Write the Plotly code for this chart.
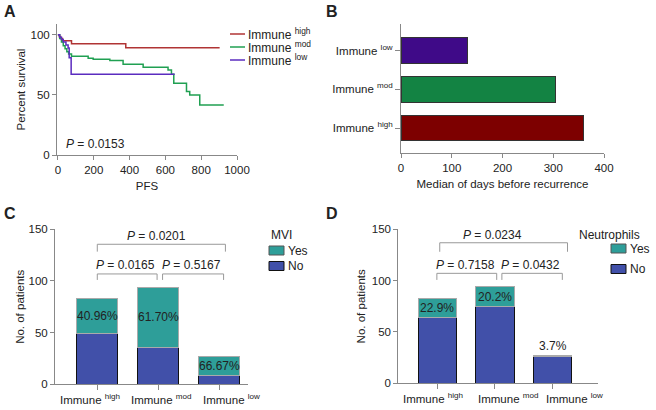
import plotly.graph_objects as go

# ---- data ----
groups = ["Immune <sup>high</sup>", "Immune <sup>mod</sup>", "Immune <sup>low</sup>"]

# A: Kaplan-Meier (PFS days, percent survival)
high_t = [0, 8, 15, 26, 76, 379, 903]
high_s = [100, 98.5, 97, 95, 92.5, 89.2, 89.2]
mod_t = [0, 10, 20, 30, 40, 50, 60, 76, 169, 197, 290, 364, 476, 615, 634, 647, 718, 736, 792, 926]
mod_s = [100, 97, 94, 91, 88.5, 86, 84, 82.2, 80.6, 79.7, 78.6, 75.6, 73.1, 70.8, 67.2, 59.7, 52.8, 50, 41.7, 41.7]
low_t = [0, 10, 20, 30, 45, 57, 63, 74, 652]
low_s = [100, 98, 96, 94, 91.5, 89, 81, 67.2, 67.2]
p_km = "0.0153"

# B: median days before recurrence (high, mod, low)
median_days = [360, 305, 132]

# C: MVI
mvi_no = [49, 36, 9]
mvi_yes = [34, 58, 18]
mvi_p = [(0, 2, "0.0201"), (0, 1, "0.0165"), (1, 2, "0.5167")]

# D: Neutrophils
neu_no = [64, 75, 26]
neu_yes = [19, 19, 1]
neu_p = [(0, 2, "0.0234"), (0, 1, "0.7158"), (1, 2, "0.0432")]

W, H = 656, 410
def px(x): return x / W
def py(y): return 1 - y / H

FAM = "Liberation Sans"
FS = 11.5
FONT = dict(family=FAM, size=FS, color="#222")
AX = dict(showline=True, linecolor="#888", linewidth=1, ticks="outside", ticklen=4,
          tickcolor="#888", showgrid=False, zeroline=False, automargin=False,
          tickfont=dict(family=FAM, size=FS, color="#222"), tickangle=0)
TF = dict(family=FAM, size=FS, color="#222")

km_cols = {"high": "#b03434", "mod": "#20a052", "low": "#5b2cbf"}
bar_cols = ["#7d0000", "#138343", "#3f0a88"]
teal, blue = "#2e9e99", "#4150a9"

fig = go.Figure()

# A
for t, s, key in [(high_t, high_s, "high"), (mod_t, mod_s, "mod"), (low_t, low_s, "low")]:
    fig.add_trace(go.Scatter(x=t, y=s, mode="lines", line=dict(color=km_cols[key], width=1.5, shape="hv"),
                             xaxis="x", yaxis="y", showlegend=False))

# B
fig.add_trace(go.Bar(x=median_days, y=groups, orientation="h", width=0.67,
                     marker=dict(color=bar_cols, line=dict(color="#333", width=1)),
                     xaxis="x2", yaxis="y2", showlegend=False))

# C / D stacked
for no, yes, xa, ya in [(mvi_no, mvi_yes, "x3", "y3"), (neu_no, neu_yes, "x4", "y4")]:
    fig.add_trace(go.Bar(x=groups, y=no, name="No", width=0.67, marker=dict(color=blue, line=dict(color="#111", width=1)),
                         xaxis=xa, yaxis=ya, showlegend=False))
    fig.add_trace(go.Bar(x=groups, y=yes, name="Yes", width=0.67, marker=dict(color=teal, line=dict(color="#aaa", width=1)),
                         xaxis=xa, yaxis=ya, showlegend=False))

annotations = []
shapes = []

def ann(text, x, y, xref="paper", yref="paper", size=FS, xanchor="center", yanchor="middle", **kw):
    annotations.append(dict(text=text, x=x, y=y, xref=xref, yref=yref, showarrow=False,
                            font=dict(family=FAM, size=size, color="#222"),
                            xanchor=xanchor, yanchor=yanchor, **kw))

# panel letters
for letter, x, y in [("A", 2, 11), ("B", 324, 11), ("C", 2, 213), ("D", 324, 213)]:
    ann("<b>%s</b>" % letter, px(x), py(y), size=16, xanchor="left")

# A legend
for (key, name), y in zip([("high", groups[0]), ("mod", groups[1]), ("low", groups[2])], [34, 47, 60]):
    shapes.append(dict(type="line", xref="paper", yref="paper", x0=px(230), x1=px(245), y0=py(y), y1=py(y),
                       line=dict(color=km_cols[key], width=1.5)))
    ann(name, px(246), py(y), size=12, xanchor="left")
ann("<i>P</i> = " + p_km, 35, 9, xref="x", yref="y", xanchor="left", size=12)

# percent labels, brackets, category labels (spread a little wider than the bars, as in the original)
def stacked_extras(no, yes, xa, ya, comps, levels, offsets, ptexts, label_pos, label_y):
    for i, (n, y) in enumerate(zip(no, yes)):
        pct = 100 * y / (n + y)
        txt = ("%.2f%%" % pct) if xa == "x3" else ("%.1f%%" % pct)
        if y >= 5:
            ann(txt, i, n + y / 2, xref=xa, yref=ya, size=12)
        else:
            ann(txt, i, n + y + 1, xref=xa, yref=ya, size=12, yanchor="bottom")
    for (a, b, p), (top, bot), (da, db), (tx, ty) in zip(comps, levels, offsets, ptexts):
        x0, x1 = a + da, b + db
        shapes.append(dict(type="path", xref=xa, yref=ya,
                           path="M %f,%f L %f,%f L %f,%f L %f,%f" % (x0, bot, x0, top, x1, top, x1, bot),
                           line=dict(color="#999", width=1)))
        ann("<i>P</i> = " + p, tx, ty, xref=xa, yref=ya, size=12)
    for g, lx in zip(groups, label_pos):
        ann(g, lx, py(label_y), xref=xa, yref="paper", size=FS)

stacked_extras(mvi_no, mvi_yes, "x3", "y3", mvi_p,
               [(135.5, 128.4), (106.8, 101), (106.8, 101)],
               [(0.0, 0.1), (0.0, -0.02), (0.07, 0.07)],
               [(0.97, 143.6), (0.47, 115.5), (1.55, 115.5)],
               [-0.12, 1.04, 2.2], 399)
stacked_extras(neu_no, neu_yes, "x4", "y4", neu_p,
               [(136.9, 128.1), (107.1, 100.7), (107.1, 100.7)],
               [(0.04, 0.26), (-0.01, 0.03), (0.12, 0.17)],
               [(0.95, 144.4), (0.48, 115.2), (1.61, 115.2)],
               [-0.08, 1.22, 2.38], 398)

# legends C and D
def bar_legend(title, title_x, title_anchor, sw_x, ys):
    ann(title, px(title_x), py(235), size=12, xanchor=title_anchor)
    for (name, col, lc), y in zip([("Yes", teal, "#555"), ("No", blue, "#111")], ys):
        shapes.append(dict(type="rect", xref="paper", yref="paper", x0=px(sw_x), x1=px(sw_x + 15),
                           y0=py(y + 4.5), y1=py(y - 4.5), fillcolor=col, line=dict(color=lc, width=1)))
        ann(name, px(sw_x + 17), py(y), size=12, xanchor="left")

bar_legend("MVI", 269, "left", 269, [250.5, 266])
bar_legend("Neutrophils", 642, "right", 611, [248.5, 269])

fig.update_layout(
    width=W, height=H, margin=dict(l=0, r=0, t=0, b=0), hovermode=False,
    paper_bgcolor="white", plot_bgcolor="white", font=FONT, barmode="stack",
    xaxis=dict(AX, domain=[px(57), px(237)], range=[-5, 1000], tickvals=[0, 200, 400, 600, 800, 1000],
               anchor="y", title=dict(text="PFS", standoff=7, font=TF)),
    yaxis=dict(AX, domain=[py(155), py(24)], range=[0, 109], tickvals=[0, 50, 100], anchor="x",
               title=dict(text="Percent survival", standoff=2, font=TF)),
    xaxis2=dict(AX, domain=[px(401), px(604)], range=[0, 400], dtick=100, anchor="y2",
                title=dict(text="Median of days before recurrence", standoff=7, font=TF)),
    yaxis2=dict(AX, domain=[py(153), py(24)], range=[-0.645, 2.684], anchor="x2", ticklen=5),
    xaxis3=dict(AX, domain=[px(55), px(248)], range=[-0.693, 2.47], anchor="y3", ticklen=5,
                showticklabels=False),
    yaxis3=dict(AX, domain=[py(384.3), py(229.3)], range=[0, 150], dtick=50, anchor="x3",
                title=dict(text="No. of patients", standoff=1, font=TF)),
    xaxis4=dict(AX, domain=[px(398.3), px(598)], range=[-0.68, 2.79], anchor="y4", ticklen=5,
                showticklabels=False),
    yaxis4=dict(AX, domain=[py(383.3), py(229.3)], range=[0, 150], dtick=50, anchor="x4",
                title=dict(text="No. of patients", standoff=3, font=TF)),
    annotations=annotations, shapes=shapes,
)

# page body has a default 8px margin; remove it so the figure sits at the window corner
fig.write_html("out.html", config={"displayModeBar": False},
               post_script="document.body.style.margin='0';")
